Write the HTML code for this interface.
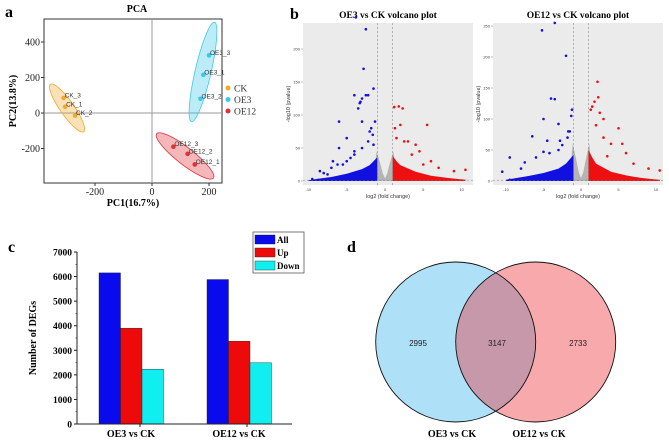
<!DOCTYPE html>
<html><head><meta charset="utf-8"><style>
body{margin:0;background:#fff;width:669px;height:440px;overflow:hidden}
svg{display:block}
.ser{font-family:"Liberation Serif",serif}
.sans{font-family:"Liberation Sans",sans-serif}
</style></head><body>
<svg id="fig" width="669" height="440" viewBox="0 0 669 440">
<g id="pa"></g>
<g id="pb"></g>
<g id="pc"></g>
<g id="pd"></g>
</svg>
<script>
// ---------- PCA data ----------
const pcaGroups=["CK","OE3","OE12"];
const pcaColors=["#f0a830","#3cc8e8","#e03038"];
const pcaLabels=["CK_3","CK_1","CK_2","OE3_3","OE3_1","OE3_2","OE12_3","OE12_2","OE12_1"];
const pcaGroupIdx=[0,0,0,1,1,1,2,2,2];
const pc1=[-310,-305,-270,200,180,170,75,125,150];
const pc2=[85,35,-15,325,215,80,-190,-230,-290];
const pcaXTicks=[-200,0,200];
const pcaYTicks=[-200,0,200,400];
const ellCx=[-298,179,116];
const ellCy=[28,231,-242];
const ellRx=[29,51,36];
const ellRy=[7,8,8.5];
const ellAng=[55,-77,38];

// ---------- Volcano data ----------
const volTitles=["OE3 vs CK volcano plot","OE12 vs CK volcano plot"];
const volXTicks=[-10,-5,0,5,10];
const volYTicks=[[0,50,100,150,200],[0,50,100,150,200,250]];
const downEnvX=[-10,-9,-7,-5,-3,-2,-1.5,-1];
const downEnvTop=[[1,3,6,11,18,24,30,36],[2,4,8,13,20,28,35,42]];
const upEnvX=[1,1.5,2,4,6,8,9.5,10.5];
const upEnvTop=[[38,30,24,14,8,5,3,2],[50,38,28,15,9,5,3,2]];
const grayEnvX=[-1.5,-1.1,-0.7,-0.3,0,0.3,0.7,1.1,1.5];
const grayEnvTop=[[10,45,30,12,4,12,30,45,10],[12,60,38,14,5,14,38,60,12]];
const downX=[[-9.5,-8.5,-8,-7.5,-6.8,-6.2,-6,-6,-5.5,-5,-4.5,-4,-4,-3.8,-3.5,-3.2,-3.3,-3,-3,-2.8,-2.5,-2.2,-2.5,-1.8,-1.5,-1.3,-2,-1.5,-7,-5,-4,-3,-2.2,-1.6],
 [-10.5,-9.5,-9.5,-7.5,-6.5,-5.2,-5,-5,-4.5,-4,-3.5,-3.5,-3,-2.5,-2,-1.7,-1.3,-1.2,-1.5,-6,-3,-8,-4.2,-2.8,-1.8]];
const downY=[[3,15,12,10,30,25,90,50,25,65,35,40,130,248,110,120,118,125,90,170,130,130,230,80,140,90,75,55,20,30,45,50,60,70],
 [15,38,2,30,72,243,100,47,65,133,132,255,92,58,202,80,105,115,80,38,50,20,45,65,70]];
const upX=[[1.2,1.8,2.3,2,3,4,4.5,5.5,6,7,8,9,10.5,1.5,2.5,3.5,5,1.3],
 [2.2,1.5,1.8,2.3,2.5,3,3,5,6,7,9,10.5,2,4,5.5,1.3,3.5]];
const upY=[[112,113,110,85,60,55,45,85,30,20,2,15,17,65,60,40,25,80],
 [160,120,128,135,110,100,70,85,45,28,20,17,90,60,60,115,40]];

// ---------- Bar data ----------
const barCats=["OE3 vs CK","OE12 vs CK"];
const barSeries=["All","Up","Down"];
const barColors=["#0a0aee","#ee0a0a","#10eef0"];
const barAll=[6150,5880];
const barUp=[3900,3370];
const barDown=[2230,2490];
const barTicks=[0,1000,2000,3000,4000,5000,6000,7000];

// ---------- Venn data ----------
const vennSets=["OE3 vs CK","OE12 vs CK"];
const vennCounts=[2995,3147,2733];

const NS="http://www.w3.org/2000/svg";
function mk(parent,tag,attrs,text){const e=document.createElementNS(NS,tag);for(const k in attrs)e.setAttribute(k,attrs[k]);if(text!==undefined)e.textContent=text;parent.appendChild(e);return e;}

// ===== Panel A =====
(function(){
const g=document.getElementById('pa');
const X=v=>152+v*57/200, Y=v=>113-v*35.5/200;
let t=mk(g,'text',{x:5,y:17,'font-size':16,'font-weight':'bold',class:'ser'},'a');


t=mk(g,'text',{x:137,y:12,'font-size':10,'font-weight':'bold','text-anchor':'middle',class:'ser'},'PCA');


let r=mk(g,'rect',{x:44,y:19,width:178,height:164,fill:'#fff',stroke:'#333','stroke-width':1});


mk(g,'line',{x1:X(0),x2:X(0),y1:19,y2:183,stroke:'#999','stroke-width':1});
mk(g,'line',{x1:44,x2:222,y1:Y(0),y2:Y(0),stroke:'#999','stroke-width':1});
for(let i=0;i<3;i++){
 const e=mk(g,'ellipse',{cx:X(ellCx[i]),cy:Y(ellCy[i]),rx:ellRx[i],ry:ellRy[i],
  transform:`rotate(${ellAng[i]} ${X(ellCx[i])} ${Y(ellCy[i])})`,fill:pcaColors[i],'fill-opacity':0.35,stroke:pcaColors[i],'stroke-width':0.8});
 
 
}
for(let i=0;i<pc1.length;i++){
 const c=mk(g,'circle',{cx:X(pc1[i]),cy:Y(pc2[i]),r:2.3,fill:pcaColors[pcaGroupIdx[i]]});
 
 
 const l=mk(g,'text',{x:X(pc1[i])+1,y:Y(pc2[i])-0.5,'font-size':6.5,fill:'#333',class:'sans'},pcaLabels[i]);
 
 
}
pcaXTicks.forEach(v=>{mk(g,'line',{x1:X(v),x2:X(v),y1:183,y2:186,stroke:'#333'});
 const tt=mk(g,'text',{x:X(v),y:195,'font-size':10,'text-anchor':'middle',class:'ser',fill:'#222'},v);
 
 });
pcaYTicks.forEach(v=>{mk(g,'line',{x1:41,x2:44,y1:Y(v),y2:Y(v),stroke:'#333'});
 const tt=mk(g,'text',{x:40,y:Y(v)+3.5,'font-size':10,'text-anchor':'end',class:'ser',fill:'#222'},v);
 
 });
t=mk(g,'text',{x:133,y:206,'font-size':10,'font-weight':'bold','text-anchor':'middle',class:'ser'},'PC1(16.7%)');


t=mk(g,'text',{x:0,y:0,'font-size':10,'font-weight':'bold','text-anchor':'middle',class:'ser',transform:'translate(16,101) rotate(-90)'},'PC2(13.8%)');


pcaGroups.forEach((n,i)=>{
 const c=mk(g,'circle',{cx:228,cy:88+i*11.5,r:2.5,fill:pcaColors[i]});
 
 
 const tt=mk(g,'text',{x:234,y:91.5+i*11.5,'font-size':9.5,class:'ser',fill:'#333'},n);
 
 
});
})();

// ===== Panel B =====
(function(){
const g=document.getElementById('pb');
let t=mk(g,'text',{x:290,y:19,'font-size':16,'font-weight':'bold',class:'ser'},'b');


const cfg=[{x0:303,x1:473,zero:385,px5:38.3,py50:33},{x0:493,x1:663,zero:581,px5:37.5,py50:31}];
cfg.forEach((c,k)=>{
 const X=v=>c.zero+v*c.px5/5, Y=v=>181-Math.min(v,258)*c.py50/50;
 const gg=mk(g,'g',{});
 
 
 const tt=mk(gg,'text',{x:(c.x0+c.x1)/2,y:18,'font-size':9.5,'font-weight':'bold','text-anchor':'middle',class:'ser'},volTitles[k]);
 
 
 const bg=mk(gg,'rect',{x:c.x0,y:23,width:c.x1-c.x0,height:162,fill:'#ebebeb'});
 
 
 const poly=(xs,ys,col,name)=>{let p=xs.map((x,i)=>X(x)+','+Y(ys[i])).join(' ');p+=' '+X(xs[xs.length-1])+','+Y(0)+' '+X(xs[0])+','+Y(0);
  const e=mk(gg,'polygon',{points:p,fill:col});};
 poly(grayEnvX,grayEnvTop[k],'#b4b4b4','nonsignificant-cloud');
 poly(downEnvX,downEnvTop[k],'#1010e0','down-cloud');
 poly(upEnvX,upEnvTop[k],'#ee1010','up-cloud');
 downX[k].forEach((x,i)=>{const p=mk(gg,'circle',{cx:X(x),cy:Y(downY[k][i]),r:1.3,fill:'#1010e0'});
  
  });
 upX[k].forEach((x,i)=>{const p=mk(gg,'circle',{cx:X(x),cy:Y(upY[k][i]),r:1.3,fill:'#ee1010'});
  
  });
 [-1,1].forEach(v=>mk(gg,'line',{x1:X(v),x2:X(v),y1:23,y2:185,stroke:'#777','stroke-width':0.5,'stroke-dasharray':'2,2'}));
 mk(gg,'line',{x1:c.x0,x2:c.x1,y1:Y(1.3),y2:Y(1.3),stroke:'#777','stroke-width':0.5,'stroke-dasharray':'2,2'});
 volXTicks.forEach(v=>{const l=mk(gg,'text',{x:X(v),y:191,'font-size':4,'text-anchor':'middle',class:'sans',fill:'#444'},v);
  
  });
 volYTicks[k].forEach(v=>{mk(gg,'line',{x1:c.x0-2,x2:c.x0,y1:Y(v),y2:Y(v),stroke:'#555','stroke-width':0.4});
  const l=mk(gg,'text',{x:c.x0-3,y:Y(v)+1.5,'font-size':4,'text-anchor':'end',class:'sans',fill:'#444'},v);
  
  });
 const xt=mk(gg,'text',{x:(c.x0+c.x1)/2,y:198,'font-size':5.5,'text-anchor':'middle',class:'sans',fill:'#333'},'log2 (fold change)');
 
 
 const yt=mk(gg,'text',{x:0,y:0,'font-size':5.5,'text-anchor':'middle',class:'sans',fill:'#333',transform:`translate(${c.x0-13},104) rotate(-90)`},'-log10 (pvalue)');
 
 
});
})();

// ===== Panel C =====
(function(){
const g=document.getElementById('pc');
const Y=v=>424-v*172/7000;
let t=mk(g,'text',{x:8,y:252,'font-size':16,'font-weight':'bold',class:'ser'},'c');


const groups=[barAll,barUp,barDown];
const starts=[99,207];
barCats.forEach((cat,ci)=>{
 groups.forEach((arr,si)=>{
  const b=mk(g,'rect',{x:starts[ci]+si*21.5,y:Y(arr[ci]),width:21.5,height:424-Y(arr[ci]),fill:barColors[si],stroke:'#222','stroke-width':0.4});
  
  
 });
 const l=mk(g,'text',{x:starts[ci]+32,y:437,'font-size':10,'font-weight':'bold','text-anchor':'middle',class:'ser'},cat);
 
 
});
mk(g,'line',{x1:77,x2:77,y1:252,y2:424,stroke:'#222','stroke-width':1});
mk(g,'line',{x1:77,x2:292,y1:424,y2:424,stroke:'#222','stroke-width':1});
barTicks.forEach(v=>{mk(g,'line',{x1:74,x2:77,y1:Y(v),y2:Y(v),stroke:'#222'});
 if(v<7000) mk(g,'line',{x1:75.5,x2:77,y1:Y(v+500),y2:Y(v+500),stroke:'#222','stroke-width':0.6});
 const l=mk(g,'text',{x:72,y:Y(v)+3.5,'font-size':9.5,'font-weight':'bold','text-anchor':'end',class:'ser'},v);
 
 });
[140,247].forEach(x=>mk(g,'line',{x1:x,x2:x,y1:424,y2:427,stroke:'#222'}));
t=mk(g,'text',{x:0,y:0,'font-size':10,'font-weight':'bold','text-anchor':'middle',class:'ser',transform:'translate(36,338) rotate(-90)'},'Number of DEGs');


const lg=mk(g,'rect',{x:253,y:232,width:51,height:41,fill:'#fff',stroke:'#222','stroke-width':0.6});


barSeries.forEach((s,i)=>{
 const r=mk(g,'rect',{x:255,y:235+i*13,width:20,height:9,fill:barColors[i],stroke:'#222','stroke-width':0.4});
 
 
 const l=mk(g,'text',{x:277,y:243+i*13,'font-size':9,'font-weight':'bold',class:'ser'},s);
 
 
});
})();

// ===== Panel D =====
(function(){
const g=document.getElementById('pd');
let t=mk(g,'text',{x:347,y:252,'font-size':16,'font-weight':'bold',class:'ser'},'d');


const cx=[455.7,535.7],cy=342,r=80;
const defs=mk(g,'defs',{});const cp=mk(defs,'clipPath',{id:'clipL'});mk(cp,'circle',{cx:cx[0],cy:cy,r:r});
let c=mk(g,'circle',{cx:cx[0],cy:cy,r:r,fill:'#aee0f8'});


c=mk(g,'circle',{cx:cx[1],cy:cy,r:r,fill:'#f8a9ac'});


c=mk(g,'circle',{cx:cx[1],cy:cy,r:r,fill:'#c698aa','clip-path':'url(#clipL)'});


cx.forEach(x=>mk(g,'circle',{cx:x,cy:cy,r:r,fill:'none',stroke:'#111','stroke-width':0.9}));
const lx=[418,497,578];
vennCounts.forEach((v,i)=>{const l=mk(g,'text',{x:lx[i],y:cy+4,'font-size':8,'text-anchor':'middle',class:'sans',fill:'#222'},v);
 
 });
[452,539].forEach((x,i)=>{const l=mk(g,'text',{x:x,y:437,'font-size':10,'font-weight':'bold','text-anchor':'middle',class:'ser'},vennSets[i]);
 
 });
})();
</script>
</body></html>
